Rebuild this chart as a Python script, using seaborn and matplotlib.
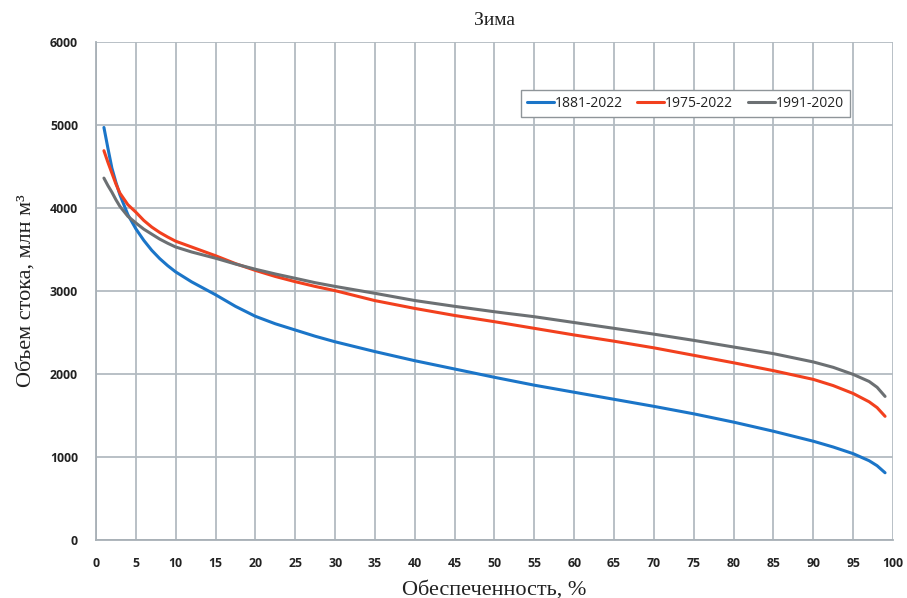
import numpy as np
import pandas as pd
import matplotlib
matplotlib.use("Agg")
import matplotlib.pyplot as plt
import seaborn as sns

# Data
x_pct = [1, 1.5, 2, 2.5, 3, 4, 5, 6, 7, 8, 9, 10, 12, 15, 17.5, 20, 22.5, 25, 27.5, 30, 35, 40, 45, 50,
         55, 60, 65, 70, 75, 80, 85, 90, 92.5, 95, 97, 98, 99]
s_1881 = [4970, 4720, 4480, 4310, 4160, 3920, 3750, 3610, 3490, 3390, 3305, 3230, 3110, 2955, 2815, 2695,
          2605, 2530, 2455, 2388, 2270, 2160, 2060, 1960, 1865, 1780, 1695, 1610, 1520, 1420, 1310, 1190,
          1120, 1040, 955, 895, 810]
s_1975 = [4690, 4550, 4420, 4290, 4180, 4040, 3950, 3850, 3770, 3705, 3650, 3600, 3530, 3425, 3330, 3248,
          3175, 3112, 3055, 3004, 2884, 2790, 2705, 2630, 2550, 2470, 2395, 2315, 2225, 2135, 2040, 1935,
          1860, 1765, 1665, 1595, 1490]
s_1991 = [4360, 4270, 4190, 4100, 4020, 3900, 3820, 3745, 3685, 3625, 3575, 3530, 3470, 3395, 3325, 3262,
          3205, 3153, 3100, 3055, 2972, 2885, 2815, 2750, 2690, 2620, 2550, 2480, 2405, 2325, 2245, 2145,
          2080, 1995, 1910, 1840, 1730]
series_names = ["1881-2022", "1975-2022", "1991-2020"]
x_ticks = list(range(0, 101, 5))
y_ticks = list(range(0, 6001, 1000))

df = pd.concat([
    pd.DataFrame({"x": x_pct, "y": s_1881, "series": series_names[0]}),
    pd.DataFrame({"x": x_pct, "y": s_1975, "series": series_names[1]}),
    pd.DataFrame({"x": x_pct, "y": s_1991, "series": series_names[2]}),
])

sns.set_theme(style="white")
plt.rcParams["font.family"] = ["DejaVu Sans"]

fig = plt.figure(figsize=(9.07, 5.98), dpi=100)
ax = fig.add_axes([0.1058, 0.097, 0.8788, 0.8328])

palette = {"1881-2022": "#1b75c8", "1975-2022": "#f2401e", "1991-2020": "#6c7073"}
sns.lineplot(data=df, x="x", y="y", hue="series", palette=palette, linewidth=2.2, ax=ax, legend=True)
for ln in ax.get_lines():
    ln.set_solid_joinstyle("round")
    ln.set_solid_capstyle("round")

ax.set_xlim(0, 100)
ax.set_ylim(0, 6000)
ax.set_xticks(x_ticks)
ax.set_yticks(y_ticks)
ax.set_xticklabels([str(t) for t in x_ticks], fontfamily="Open Sans", fontweight="bold", fontsize=8.8, color="#222222")
ax.set_yticklabels([str(t) for t in y_ticks], fontfamily="Open Sans", fontweight="bold", fontsize=8.8, color="#222222")
ax.grid(True, color="#b3bbc1", linewidth=1.3)
ax.set_axisbelow(True)
for side in ["top", "right"]:
    ax.spines[side].set_visible(False)
for side in ["left", "bottom"]:
    ax.spines[side].set_color("#a8b0b6")
    ax.spines[side].set_linewidth(1.3)
ax.tick_params(axis="x", which="major", length=5, color="#a8b0b6", width=1.2, pad=7)
ax.tick_params(axis="y", which="major", length=0, pad=13)

ax.set_xlabel("Обеспеченность, %", fontfamily="Liberation Serif", fontsize=16, color="#222222", labelpad=8)
ax.set_ylabel("Объем стока, млн м³", fontfamily="Liberation Serif", fontsize=16, color="#222222", labelpad=10)
ax.set_title("Зима", fontfamily="Liberation Serif", fontsize=14, color="#222222", pad=12)

leg = ax.legend(loc="upper left", bbox_to_anchor=(0.524, 0.918), ncol=3, frameon=True,
                fancybox=False, framealpha=1, edgecolor="#8f9599",
                handlelength=1.95, handletextpad=0.05, columnspacing=1.05, borderpad=0.45,
                prop={"family": "Open Sans", "size": 10})
leg.get_frame().set_linewidth(1.0)
for t in leg.get_texts():
    t.set_color("#222222")

fig.savefig("out.png", dpi=100)
